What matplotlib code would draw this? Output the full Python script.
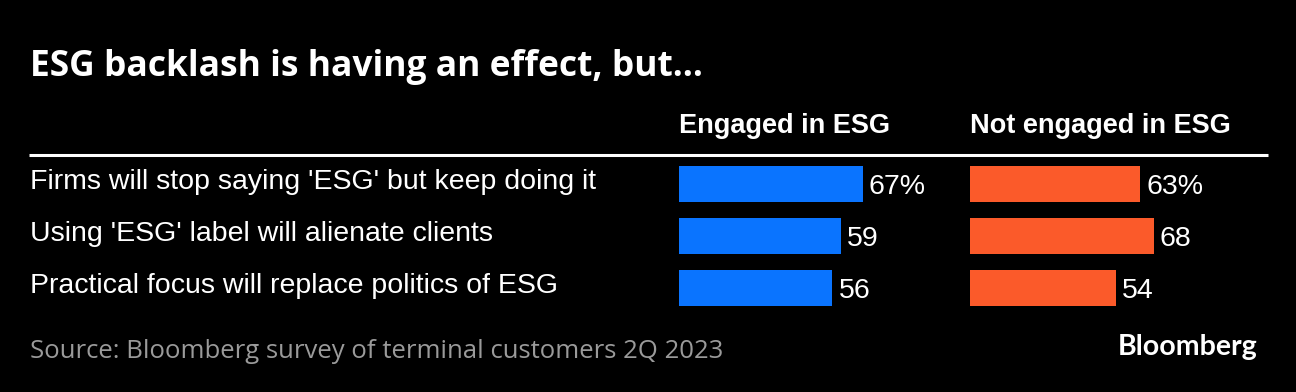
import matplotlib.pyplot as plt
from matplotlib.transforms import blended_transform_factory

# Data
statements = [
    "Firms will stop saying 'ESG' but keep doing it",
    "Using 'ESG' label will alienate clients",
    "Practical focus will replace politics of ESG",
]
engaged = [67, 59, 56]
not_engaged = [63, 68, 54]
groups = ["Engaged in ESG", "Not engaged in ESG"]

W, H = 1296, 392
BG = "#000000"
BLUE = "#0a74ff"
ORANGE = "#fb5a2a"

fig = plt.figure(figsize=(W / 100, H / 100), dpi=100, facecolor=BG)


def fx(px):
    return px / W


def fy(py):
    return 1 - py / H


# Axes: rows spaced 52px, first row centred at 184px
top, row_h = 158, 52
ax_bottom = fy(top + 3 * row_h)
ax_height = 3 * row_h / H

ax1 = fig.add_axes([fx(679), ax_bottom, fx(274), ax_height])
ax2 = fig.add_axes([fx(970), ax_bottom, fx(270), ax_height])

for ax, vals, color in [(ax1, engaged, BLUE), (ax2, not_engaged, ORANGE)]:
    ax.set_facecolor(BG)
    ax.barh(range(len(vals)), vals, height=36 / row_h, color=color)
    ax.set_xlim(0, 100)
    ax.set_ylim(len(vals) - 0.5, -0.5)
    ax.axis("off")
    for i, v in enumerate(vals):
        txt = f"{v}%" if i == 0 else f"{v}"
        ax.text(v + 6 / 2.72, i + 0.19, txt, color="white", fontsize=20.5,
                family="Liberation Sans", va="baseline", ha="left")

# Row labels
trans = blended_transform_factory(fig.transFigure, ax1.transData)
for i, s in enumerate(statements):
    ax1.text(fx(30), i + 0.1, s, transform=trans, color="white", fontsize=20.5,
             family="Liberation Sans", va="baseline", ha="left")

# Column headers
fig.text(fx(679), fy(133), groups[0], color="white", fontsize=19.5,
         family="Liberation Sans", weight="bold", va="baseline", ha="left")
fig.text(fx(970), fy(133), groups[1], color="white", fontsize=19.5,
         family="Liberation Sans", weight="bold", va="baseline", ha="left")

# Header rule
fig.add_artist(plt.Line2D([fx(29), fx(1268)], [fy(154.5), fy(154.5)],
                          color="white", linewidth=2.2, solid_capstyle="butt"))

# Title
fig.text(fx(30), fy(76), "ESG backlash is having an effect, but…", color="white",
         fontsize=25.5, family="Open Sans", weight="bold", va="baseline", ha="left")

# Source and logo
fig.text(fx(30), fy(358), "Source: Bloomberg survey of terminal customers 2Q 2023",
         color="#9a9a9a", fontsize=18.5, family="Open Sans", va="baseline", ha="left")
fig.text(fx(1257), fy(355), "Bloomberg", color="white", fontsize=20.5,
         family="Lato", weight="bold", va="baseline", ha="right")

fig.savefig("out.png", dpi=100, facecolor=BG)
